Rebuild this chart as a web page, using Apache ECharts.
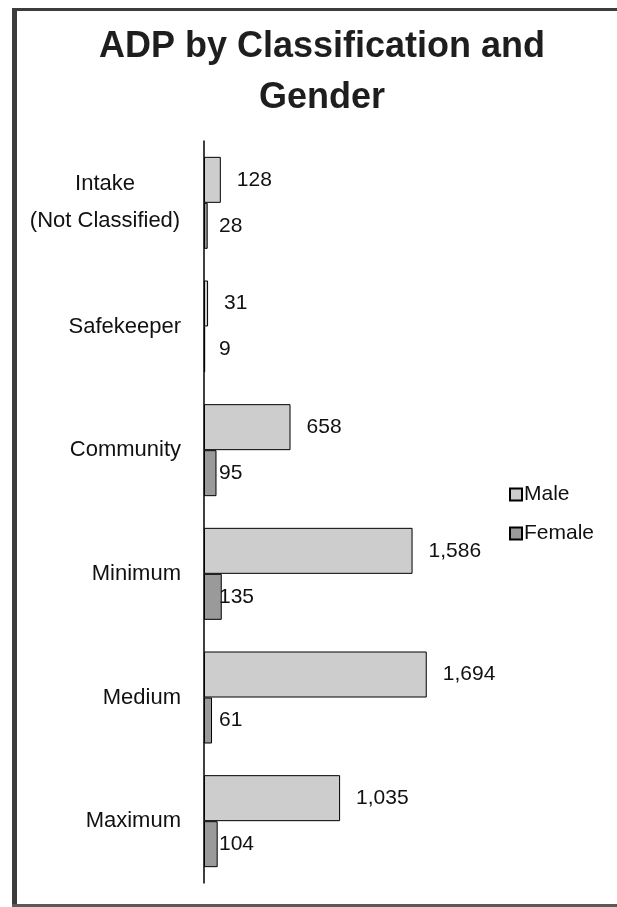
<!DOCTYPE html>
<html>
<head>
<meta charset="utf-8">
<script src="https://cdn.jsdelivr.net/npm/echarts@6/dist/echarts.min.js"></script>
<style>
  html, body { margin: 0; padding: 0; background: #fff; }
  #chart { width: 617px; height: 907px; }
</style>
</head>
<body>
<div id="chart"></div>
<script>
// Classification groups, listed top to bottom
const categories = ['Intake\n(Not Classified)', 'Safekeeper', 'Community', 'Minimum', 'Medium', 'Maximum'];
// Average daily population by gender
const maleValues = [128, 31, 658, 1586, 1694, 1035];
const femaleValues = [28, 9, 95, 135, 61, 104];
const seriesNames = ['Male', 'Female'];

const FONT = '"Liberation Sans", Arial, sans-serif';
const fmt = v => v.toLocaleString('en-US');

const chart = echarts.init(document.getElementById('chart'), null, { renderer: 'canvas' });

chart.setOption({
  backgroundColor: '#ffffff',
  animation: false,
  title: {
    text: 'ADP by Classification and\nGender',
    left: 317,
    top: 17,
    textAlign: 'center',
    textStyle: {
      fontFamily: FONT,
      fontWeight: 'bold',
      fontSize: 36,
      lineHeight: 51,
      color: '#1e1e1e'
    }
  },
  legend: {
    orient: 'vertical',
    left: 504,
    top: 479,
    itemWidth: 12,
    itemHeight: 12,
    itemGap: 18,
    icon: 'rect',
    data: seriesNames,
    textStyle: { fontFamily: FONT, fontSize: 21, color: '#111', padding: [0, 0, 0, -3] }
  },
  grid: { left: 204, top: 141, width: 263, bottom: 24, containLabel: false },
  xAxis: {
    type: 'value',
    min: 0,
    max: 2000,
    show: false
  },
  yAxis: {
    type: 'category',
    inverse: true,
    data: categories,
    axisLine: { show: true, lineStyle: { color: '#000', width: 1.5 } },
    axisTick: { show: false },
    axisLabel: {
      margin: 23,
      fontFamily: FONT,
      fontSize: 22,
      color: '#111',
      align: 'right',
      formatter: function (v) {
        if (v.indexOf('\n') >= 0) {
          const parts = v.split('\n');
          return '{c|' + parts[0] + '}\n{c|' + parts[1] + '}';
        }
        return v;
      },
      rich: {
        c: { width: 152, align: 'center', fontFamily: FONT, fontSize: 22, lineHeight: 37, color: '#111' }
      }
    }
  },
  series: [
    {
      name: seriesNames[0],
      type: 'bar',
      data: maleValues,
      barWidth: 46,
      barGap: '0%',
      itemStyle: { color: '#cdcdcd', borderColor: '#000', borderWidth: 1 },
      label: {
        show: true,
        position: 'right',
        distance: 16,
        fontFamily: FONT,
        fontSize: 21,
        color: '#111',
        formatter: p => fmt(p.value)
      }
    },
    {
      name: seriesNames[1],
      type: 'bar',
      data: femaleValues,
      barWidth: 46,
      barGap: '0%',
      itemStyle: { color: '#9a9a9a', borderColor: '#000', borderWidth: 1 },
      label: {
        show: true,
        position: 'insideLeft',
        distance: 15,
        fontFamily: FONT,
        fontSize: 21,
        color: '#111',
        formatter: p => fmt(p.value)
      }
    }
  ],
  graphic: [
    // page frame: left, top and bottom rules
    { type: 'rect', shape: { x: 12, y: 8, width: 5, height: 899 }, style: { fill: '#3c3c3c' }, silent: true },
    { type: 'rect', shape: { x: 12, y: 8, width: 605, height: 3 }, style: { fill: '#3c3c3c' }, silent: true },
    { type: 'rect', shape: { x: 12, y: 904, width: 605, height: 3 }, style: { fill: '#5a5a5a' }, silent: true }
  ]
});
</script>
</body>
</html>
